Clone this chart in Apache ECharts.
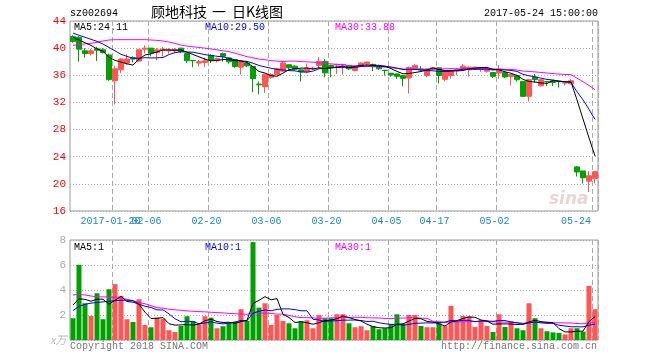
<!DOCTYPE html>
<html><head><meta charset="utf-8">
<script src="https://cdn.jsdelivr.net/npm/echarts@6/dist/echarts.min.js"></script>
<style>html,body{margin:0;padding:0;background:#fff}#c{width:660px;height:360px}</style>
</head><body><div id="c"></div>
<script>
const dates = ['2017-01-11','2017-01-12','2017-01-13','2017-01-16','2017-01-17','2017-01-18','2017-01-19','2017-01-20','2017-01-23','2017-01-24','2017-01-25','2017-01-26','2017-02-03','2017-02-06','2017-02-07','2017-02-08','2017-02-09','2017-02-10','2017-02-13','2017-02-14','2017-02-15','2017-02-16','2017-02-17','2017-02-20','2017-02-21','2017-02-22','2017-02-23','2017-02-24','2017-02-27','2017-02-28','2017-03-01','2017-03-02','2017-03-03','2017-03-06','2017-03-07','2017-03-08','2017-03-09','2017-03-10','2017-03-13','2017-03-14','2017-03-15','2017-03-16','2017-03-17','2017-03-20','2017-03-21','2017-03-22','2017-03-23','2017-03-24','2017-03-27','2017-03-28','2017-03-29','2017-03-30','2017-03-31','2017-04-05','2017-04-06','2017-04-07','2017-04-10','2017-04-11','2017-04-12','2017-04-13','2017-04-14','2017-04-17','2017-04-18','2017-04-19','2017-04-20','2017-04-21','2017-04-24','2017-04-25','2017-04-26','2017-04-27','2017-04-28','2017-05-02','2017-05-03','2017-05-04','2017-05-05','2017-05-08','2017-05-09','2017-05-10','2017-05-11','2017-05-12','2017-05-15','2017-05-16','2017-05-17','2017-05-18','2017-05-19','2017-05-22','2017-05-23','2017-05-24'];
const opens = [41.7,41.6,39.6,39.2,39.9,39.75,39.0,35.2,36.8,37.8,38.6,38.1,39.85,40.0,39.35,39.7,39.6,39.6,40.0,39.2,38.2,37.8,37.9,38.9,38.15,39.2,38.55,38.3,37.2,37.8,37.3,34.7,34.3,35.7,36.1,36.6,37.55,37.35,36.8,36.5,36.95,37.45,38.05,37.45,37.5,37.5,37.45,36.7,37.45,37.7,37.6,37.3,36.75,36.3,36.2,35.95,35.6,36.95,36.95,35.97,36.9,37.1,35.4,35.97,36.7,36.9,36.8,36.95,36.85,36.6,36.4,36.33,36.4,35.84,35.94,35.1,32.9,35.75,34.45,35.1,35.2,35.1,34.85,34.75,22.5,21.9,20.4,20.8];
const closes = [41.0,39.85,39.2,39.6,39.7,39.35,35.35,36.95,38.4,38.4,38.4,39.75,40.0,39.3,39.75,39.85,39.75,39.8,39.5,38.15,38.15,38.0,38.15,38.2,38.45,38.8,38.0,37.3,38.0,37.4,35.5,34.6,36.15,36.1,36.95,37.8,37.1,36.9,36.5,37.05,37.05,38.05,36.35,37.1,37.6,37.6,36.95,37.35,37.8,37.95,37.3,36.95,36.7,36.05,35.85,35.55,37.15,37.45,36.8,36.95,37.1,35.97,36.7,36.65,36.85,37.35,37.2,37.2,37.15,36.9,35.84,36.9,35.75,36.1,35.35,32.9,35.35,35.35,35.35,35.05,34.95,35.05,34.9,35.2,21.75,20.9,21.2,21.8];
const lows = [40.8,38.0,38.6,38.9,38.1,39.2,35.2,31.7,36.3,37.5,37.9,38.0,39.2,38.8,38.2,38.8,39.2,39.3,39.3,37.8,37.2,37.3,37.2,37.8,37.9,38.0,37.7,37.1,36.1,37.2,33.5,33.2,33.4,35.5,36.0,36.5,36.8,36.7,35.1,36.3,36.8,37.0,35.7,35.7,36.2,36.1,36.8,36.6,37.4,37.6,36.6,36.8,35.95,35.8,35.5,34.4,33.3,36.9,36.6,35.7,36.8,34.8,35.1,35.5,36.0,36.7,35.8,36.8,36.5,36.4,35.6,35.5,35.6,34.5,35.1,32.8,32.15,34.9,34.35,34.4,34.4,34.2,34.5,34.7,21.1,20.05,18.8,20.05];
const highs = [41.9,41.8,40.0,39.9,40.2,40.0,39.2,37.4,38.5,39.1,38.8,39.9,40.4,40.05,40.0,40.2,40.0,40.0,40.05,39.3,38.25,38.25,38.6,39.1,38.6,39.35,38.6,38.4,38.1,37.9,37.4,35.1,36.2,36.3,37.1,38.0,37.6,37.45,36.85,37.7,37.3,38.7,38.4,37.6,37.7,37.7,37.5,37.45,37.9,38.0,37.7,37.4,36.8,36.35,36.25,36.0,37.3,37.6,37.35,37.0,37.2,37.15,36.75,36.7,36.95,37.65,37.3,37.3,37.2,37.0,36.45,37.5,36.5,36.15,36.0,35.15,35.4,36.2,35.4,35.15,35.25,35.15,35.0,35.4,22.6,21.9,21.9,21.9];
const ma5 = [41.6,41.2,40.8,40.4,39.87,39.54,38.64,38.19,37.95,37.69,37.5,38.38,38.99,39.17,39.44,39.73,39.73,39.69,39.73,39.41,39.07,38.72,38.39,38.13,38.19,38.32,38.32,38.15,38.11,37.9,37.24,36.56,36.33,35.95,35.86,36.32,36.82,36.97,37.05,37.07,36.92,37.11,37.0,37.12,37.23,37.34,37.12,37.32,37.46,37.53,37.47,37.47,37.34,36.99,36.57,36.22,36.26,36.41,36.56,36.78,37.09,36.85,36.7,36.67,36.65,36.7,36.95,37.05,37.15,37.16,36.86,36.8,36.51,36.3,35.99,35.4,35.09,35.01,34.86,34.8,35.21,35.15,35.06,35.03,32.37,29.56,26.79,24.11];
const ma10 = [42.2,41.9,41.6,41.3,41.0,40.6,40.1,39.6,39.1,38.78,38.52,38.51,38.59,38.56,38.57,38.62,39.06,39.34,39.45,39.43,39.4,39.23,39.04,38.93,38.8,38.7,38.52,38.27,38.12,38.05,37.78,37.44,37.24,37.03,36.88,36.78,36.69,36.65,36.5,36.47,36.62,36.97,36.99,37.09,37.15,37.13,37.12,37.16,37.29,37.38,37.41,37.3,37.33,37.23,37.05,36.85,36.87,36.88,36.78,36.68,36.66,36.56,36.56,36.62,36.72,36.9,36.9,36.88,36.91,36.91,36.78,36.87,36.78,36.72,36.57,36.13,35.94,35.76,35.58,35.39,35.31,35.12,35.04,34.95,33.58,32.39,30.97,29.5];
const ma30 = [40.42,40.52,40.62,40.71,40.86,41.05,41.2,41.25,41.25,41.25,41.25,41.25,41.25,41.2,41.15,41.05,40.9,40.7,40.45,40.3,40.2,40.1,40.0,39.88,39.74,39.62,39.48,39.25,39.0,38.75,38.57,38.39,38.29,38.17,38.08,38.03,38.09,38.09,38.02,37.98,37.93,37.88,37.76,37.68,37.61,37.54,37.44,37.36,37.3,37.3,37.27,37.23,37.19,37.11,37.03,36.92,36.89,36.9,36.86,36.84,36.89,36.94,36.96,36.98,36.97,36.96,36.96,36.97,36.99,36.99,36.95,36.91,36.89,36.86,36.78,36.62,36.57,36.5,36.42,36.33,36.25,36.18,36.12,36.1,35.58,35.06,34.5,33.88];
const volumes = [1.74,6.02,2.94,1.93,3.74,1.66,4.06,4.47,3.53,1.66,1.44,3.26,1.2,1.02,1.79,1.71,0.78,0.64,1.12,1.9,1.5,1.26,1.9,1.79,0.94,1.1,1.36,1.47,2.46,1.52,7.83,2.59,2.94,1.2,2.0,1.52,1.34,0.94,1.5,1.58,0.94,2.0,1.74,1.74,2.06,2.06,1.34,1.02,1.1,0.78,1.12,0.86,0.94,1.26,2.06,1.31,2.0,2.0,1.12,1.02,1.02,1.34,1.12,2.73,1.52,1.93,1.9,1.04,1.6,1.12,0.64,2.06,1.04,1.52,0.94,0.78,2.94,1.74,0.94,0.7,0.61,0.56,0.45,0.94,0.94,0.67,4.33,2.46];
const volMa5 = [2.8,3.3,3.25,3.1,3.27,3.26,2.87,3.17,3.49,3.08,3.03,2.87,2.22,1.72,1.74,1.8,1.3,1.19,1.21,1.23,1.19,1.28,1.54,1.67,1.48,1.4,1.42,1.33,1.47,1.58,2.93,3.17,3.47,3.22,3.31,2.05,1.8,1.4,1.46,1.38,1.26,1.39,1.55,1.6,1.7,1.92,1.79,1.64,1.52,1.26,1.07,0.98,0.96,0.99,1.25,1.29,1.51,1.73,1.7,1.49,1.43,1.3,1.12,1.45,1.55,1.73,1.84,1.82,1.6,1.52,1.26,1.29,1.29,1.28,1.24,1.27,1.44,1.58,1.47,1.42,1.39,0.91,0.65,0.65,0.7,0.71,1.47,1.87];
const volMa10 = [2.35,2.7,2.85,2.95,3.0,3.05,3.1,3.15,3.18,3.18,3.15,2.87,2.7,2.6,2.41,2.41,2.09,1.7,1.46,1.49,1.49,1.29,1.36,1.44,1.35,1.29,1.35,1.43,1.57,1.53,2.16,2.3,2.4,2.34,2.45,2.49,2.49,2.43,2.34,2.34,1.66,1.6,1.48,1.53,1.54,1.59,1.59,1.6,1.56,1.48,1.5,1.38,1.3,1.25,1.25,1.18,1.25,1.34,1.35,1.37,1.36,1.41,1.43,1.57,1.52,1.58,1.57,1.47,1.52,1.53,1.49,1.57,1.56,1.44,1.38,1.26,1.37,1.44,1.37,1.33,1.33,1.18,1.12,1.06,1.06,1.05,1.19,1.26];
const volMa30 = [3.6,3.65,3.6,3.52,3.45,3.45,3.44,3.41,3.35,3.26,3.14,3.0,2.9,2.74,2.59,2.55,2.46,2.42,2.38,2.33,2.3,2.27,2.25,2.22,2.19,2.17,2.13,2.1,2.08,2.06,2.2,2.15,2.15,2.13,2.07,2.07,1.97,1.86,1.79,1.79,1.77,1.73,1.75,1.77,1.78,1.79,1.81,1.82,1.82,1.78,1.77,1.76,1.73,1.71,1.75,1.75,1.77,1.79,1.75,1.73,1.5,1.46,1.4,1.45,1.44,1.45,1.47,1.47,1.48,1.46,1.45,1.45,1.43,1.42,1.38,1.34,1.39,1.42,1.41,1.41,1.39,1.38,1.37,1.36,1.32,1.3,1.38,1.39];
const tickDates = ['2017-01-20','2017-02-06','2017-02-20','2017-03-06','2017-03-20','2017-04-05','2017-04-17','2017-05-02','2017-05-24'];
const tickLabels = ['2017-01-20','02-06','02-20','03-06','03-20','04-05','04-17','05-02','05-24'];

const RED = '#ff5555', GREEN = '#00a000';
const MONO = 'Liberation Mono';
const last = dates.length - 1;
const isTick = (i, v) => tickDates.indexOf(v) >= 0;
// first tick label goes on its own axis so overlap hiding cannot drop it
const isTickA = (i, v) => tickDates.indexOf(v) >= 1;
const isTickB = (i, v) => v === tickDates[0];

const chart = echarts.init(document.getElementById('c'), null, {renderer: 'canvas'});
const gridBase = {left: 70, width: 528, show: true, borderColor: '#999', borderWidth: 1, backgroundColor: 'transparent'};
const splitV = {show: true, interval: isTick, lineStyle: {color: '#aaa', type: [5, 3], width: 1}};
const splitH = {show: true, lineStyle: {color: '#aaa', type: [1, 2], width: 1}};
const labelRich = {a: {padding: [0, 9, 0, 0], color: '#1a86d6', fontFamily: MONO, fontSize: 10},
                   e: {padding: [0, 38, 0, 0], color: '#1a86d6', fontFamily: MONO, fontSize: 10}};
const labelFmt = function (v) { const k = tickDates.indexOf(v); if (k < 0) return ''; return (v === dates[last] ? '{e|' : '{a|') + tickLabels[k] + '}'; };

function txt(x, y, s, color, opt) {
  return Object.assign({type: 'text', x: x, y: y, silent: true,
    style: Object.assign({text: s, fill: color, font: '10px "' + MONO + '"', textVerticalAlign: 'middle', textAlign: 'left'}, opt || {})});
}

const option = {
  animation: false,
  grid: [Object.assign({top: 21, height: 190}, gridBase), Object.assign({top: 240, height: 100}, gridBase)],
  xAxis: [
    {type: 'category', gridIndex: 0, data: dates, boundaryGap: true,
     axisLine: {show: false}, axisTick: {show: false},
     axisLabel: {interval: isTickA, hideOverlap: false, margin: 5, color: '#1a86d6', fontFamily: MONO, fontSize: 10, formatter: labelFmt, rich: labelRich},
     splitLine: splitV},
    {type: 'category', gridIndex: 1, data: dates, boundaryGap: true,
     axisLine: {show: false}, axisTick: {show: false}, axisLabel: {show: false}, splitLine: splitV},
    {type: 'category', gridIndex: 0, data: dates, boundaryGap: true, position: 'bottom',
     axisLine: {show: false}, axisTick: {show: false}, splitLine: {show: false},
     axisLabel: {interval: isTickB, hideOverlap: false, margin: 5, color: '#1a86d6', fontFamily: MONO, fontSize: 10, formatter: labelFmt, rich: labelRich}}
  ],
  yAxis: [
    {type: 'value', gridIndex: 0, min: 16, max: 44, interval: 4, axisLine: {show: false}, axisTick: {show: false},
     axisLabel: {color: '#ff0000', fontFamily: MONO, fontSize: 11, margin: 4}, splitLine: splitH},
    {type: 'value', gridIndex: 1, min: 0, max: 8, interval: 2, axisLine: {show: false}, axisTick: {show: false},
     axisLabel: {color: '#aaa', fontFamily: MONO, fontSize: 11, margin: 4, formatter: v => v === 0 ? '' : String(v)}, splitLine: splitH}
  ],
  series: [
    {type: 'candlestick', xAxisIndex: 0, yAxisIndex: 0, barWidth: 5,
     data: dates.map((d, i) => [opens[i], closes[i], lows[i], highs[i]]),
     itemStyle: {color: RED, color0: GREEN, borderColor: RED, borderColor0: GREEN, borderWidth: 1}},
    {type: 'line', xAxisIndex: 0, yAxisIndex: 0, data: ma30, showSymbol: false, lineStyle: {color: '#ff00ff', width: 1}, silent: true},
    {type: 'line', xAxisIndex: 0, yAxisIndex: 0, data: ma10, showSymbol: false, lineStyle: {color: '#0000ff', width: 1}, silent: true},
    {type: 'line', xAxisIndex: 0, yAxisIndex: 0, data: ma5, showSymbol: false, lineStyle: {color: '#000', width: 1}, silent: true},
    {type: 'bar', xAxisIndex: 1, yAxisIndex: 1, barWidth: 5, data: volumes,
     itemStyle: {color: p => closes[p.dataIndex] >= opens[p.dataIndex] ? RED : GREEN}},
    {type: 'line', xAxisIndex: 1, yAxisIndex: 1, data: volMa30, showSymbol: false, lineStyle: {color: '#ff00ff', width: 1}, silent: true},
    {type: 'line', xAxisIndex: 1, yAxisIndex: 1, data: volMa10, showSymbol: false, lineStyle: {color: '#0000ff', width: 1}, silent: true},
    {type: 'line', xAxisIndex: 1, yAxisIndex: 1, data: volMa5, showSymbol: false, lineStyle: {color: '#000', width: 1}, silent: true}
  ],
  graphic: [
    txt(70, 13, 'sz002694', '#000'),
    txt(151, 12, '顾地科技', '#000', {font: '14px "Noto Sans CJK SC"'}),
    txt(212, 12, '一', '#000', {font: '14px "Noto Sans CJK SC"'}),
    txt(232, 12, '日K线图', '#000', {font: '14px "Noto Sans CJK SC"'}),
    txt(598, 13, '2017-05-24 15:00:00', '#000', {textAlign: 'right'}),
    txt(74, 27, 'MA5:' + ma5[last].toFixed(2), '#000'),
    txt(205, 27, 'MA10:' + ma10[last].toFixed(2), '#0000ff'),
    txt(335, 27, 'MA30:' + ma30[last].toFixed(2), '#ff00ff'),
    txt(74, 247, 'MA5:' + Math.floor(volMa5[last]), '#000'),
    txt(205, 247, 'MA10:' + Math.floor(volMa10[last]), '#0000ff'),
    txt(335, 247, 'MA30:' + Math.floor(volMa30[last]), '#ff00ff'),
    txt(50, 340, 'x万', '#bbb', {font: 'italic 11px "Noto Sans CJK SC"'}),
    txt(70, 346, 'Copyright 2018 SINA.COM', '#777'),
    txt(597, 346, 'http://finance.sina.com.cn', '#777', {textAlign: 'right'}),
    txt(549, 200, 'sina', 'rgba(200,150,150,0.4)', {font: 'italic bold 17px "DejaVu Sans"'})
  ]
};
chart.setOption(option);
</script>
</body></html>
